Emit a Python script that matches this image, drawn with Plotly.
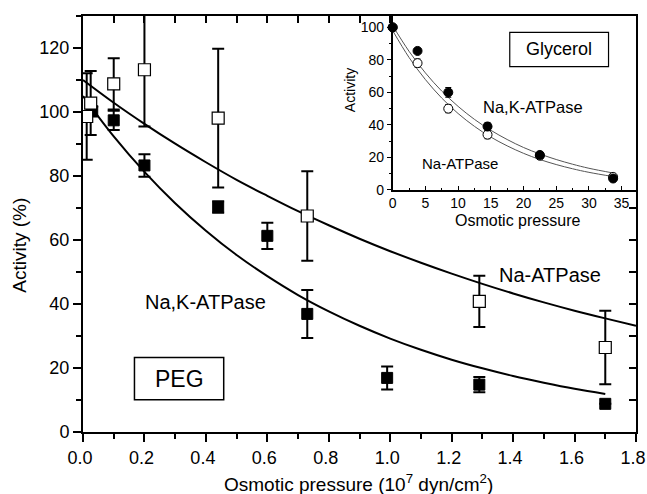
import plotly.graph_objects as go

# ---- main panel (PEG) data ----
nak_x = [0.03, 0.10, 0.20, 0.44, 0.60, 0.73, 0.99, 1.29, 1.70]
nak_y = [100.2, 97.4, 83.3, 70.3, 61.3, 36.9, 16.9, 14.8, 8.8]
nak_err = [1.5, 3.0, 3.5, 1.8, 4.1, 7.5, 3.6, 2.4, 0.0]

na_x = [0.012, 0.025, 0.10, 0.20, 0.44, 0.73, 1.29, 1.70]
na_y = [98.6, 102.8, 108.8, 113.2, 98.1, 67.5, 40.8, 26.4]
na_err = [13.5, 10.0, 8.0, 17.7, 21.7, 14.0, 8.0, 11.5]

fit_na_x = [0.0, 0.1, 0.2, 0.3, 0.4, 0.5, 0.6, 0.7, 0.8, 0.9, 1.0, 1.1, 1.2, 1.3, 1.4, 1.5, 1.6, 1.7, 1.8]
fit_na_y = [110, 102.9, 96.3, 90.1, 84.3, 78.8, 73.8, 69.0, 64.6, 60.4, 56.5, 52.9, 49.5, 46.3, 43.3, 40.5, 37.9, 35.5, 33.2]

fit_nak_x = [0.0, 0.1, 0.2, 0.3, 0.4, 0.5, 0.6, 0.7, 0.8, 0.9, 1.0, 1.1, 1.2, 1.3, 1.4, 1.5, 1.6, 1.7]
fit_nak_y = [105, 92.4, 81.3, 71.5, 62.9, 55.3, 48.7, 42.8, 37.7, 33.2, 29.2, 25.7, 22.6, 19.9, 17.5, 15.4, 13.5, 11.9]

x_ticks = [0.0, 0.2, 0.4, 0.6, 0.8, 1.0, 1.2, 1.4, 1.6, 1.8]
x_ticklabels = ["0.0", "0.2", "0.4", "0.6", "0.8", "1.0", "1.2", "1.4", "1.6", "1.8"]

# ---- inset (Glycerol) data ----
glyc_x = [0, 3.8, 8.5, 14.5, 22.5, 33.7]
glyc_nak = [100, 85.5, 60, 39, 21.5, 7]
glyc_nak_err = [0, 1, 3, 2.5, 1.5, 1]
glyc_na = [100, 78, 50, 34, 21, 8]
glyc_na_err = [0, 2.5, 2.5, 2.5, 1, 1.5]

gfit_x = [0, 2.5, 5, 7.5, 10, 12.5, 15, 17.5, 20, 22.5, 25, 27.5, 30, 33.7]
gfit_nak = [101, 85.3, 72.0, 60.8, 51.4, 43.4, 36.7, 31.0, 26.1, 22.1, 18.7, 15.8, 13.3, 10.4]
gfit_na = [98, 81.5, 67.9, 56.5, 47.0, 39.1, 32.5, 27.1, 22.5, 18.7, 15.6, 13.0, 10.8, 8.2]

FONT = "Liberation Sans, Arial, sans-serif"

fig = go.Figure()

# main fits
fig.add_trace(go.Scatter(x=fit_na_x, y=fit_na_y, mode="lines", line=dict(color="black", width=2, shape="spline"),
                         showlegend=False, hoverinfo="skip"))
fig.add_trace(go.Scatter(x=fit_nak_x, y=fit_nak_y, mode="lines", line=dict(color="black", width=2, shape="spline"),
                         showlegend=False, hoverinfo="skip"))
# main data
fig.add_trace(go.Scatter(x=nak_x, y=nak_y, mode="markers",
                         marker=dict(symbol="square", size=11, color="black", line=dict(color="black", width=1)),
                         error_y=dict(type="data", array=nak_err, color="black", thickness=2, width=6),
                         showlegend=False, cliponaxis=True))
fig.add_trace(go.Scatter(x=na_x, y=na_y, mode="markers",
                         marker=dict(symbol="square", size=12, color="white", line=dict(color="black", width=1.2)),
                         error_y=dict(type="data", array=na_err, color="black", thickness=2, width=6),
                         showlegend=False, cliponaxis=True))

# dummy trace for mirrored axes
fig.add_trace(go.Scatter(x=[None], y=[None], xaxis="x2", yaxis="y2", showlegend=False, hoverinfo="skip"))

# inset fits
fig.add_trace(go.Scatter(x=gfit_x, y=gfit_nak, mode="lines", xaxis="x3", yaxis="y3",
                         line=dict(color="#555555", width=1, shape="spline"), showlegend=False, hoverinfo="skip"))
fig.add_trace(go.Scatter(x=gfit_x, y=gfit_na, mode="lines", xaxis="x3", yaxis="y3",
                         line=dict(color="#555555", width=1, shape="spline"), showlegend=False, hoverinfo="skip"))
# inset data
fig.add_trace(go.Scatter(x=glyc_x, y=glyc_na, mode="markers", xaxis="x3", yaxis="y3",
                         marker=dict(symbol="circle", size=9, color="white", line=dict(color="black", width=1)),
                         error_y=dict(type="data", array=glyc_na_err, color="black", thickness=1, width=3),
                         showlegend=False, cliponaxis=False))
fig.add_trace(go.Scatter(x=glyc_x, y=glyc_nak, mode="markers", xaxis="x3", yaxis="y3",
                         marker=dict(symbol="circle", size=9, color="black", line=dict(color="black", width=1)),
                         error_y=dict(type="data", array=glyc_nak_err, color="black", thickness=1, width=3),
                         showlegend=False, cliponaxis=False))

tickfont = dict(family=FONT, size=18, color="black")
insetfont = dict(family=FONT, size=14, color="black")

fig.update_layout(
    width=647, height=494,
    margin=dict(l=83, r=11, t=16, b=62),
    paper_bgcolor="white", plot_bgcolor="white",
    font=dict(family=FONT, color="black"),
    xaxis=dict(domain=[0, 1], range=[0, 1.8], anchor="y", showline=True, linewidth=2, linecolor="black",
               ticks="outside", ticklen=8, tickwidth=2, tickcolor="black",
               tickmode="array", tickvals=x_ticks, ticktext=x_ticklabels, ticklabeloverflow="allow",
               ticklabelshift=-3,
               minor=dict(dtick=0.1, tick0=0, ticks="outside", ticklen=5, tickwidth=2, tickcolor="black"),
               showgrid=False, zeroline=False, tickfont=tickfont, automargin=False),
    yaxis=dict(domain=[0, 1], range=[0, 130], anchor="x", showline=True, linewidth=2, linecolor="black",
               ticks="outside", ticklen=8, tickwidth=2, tickcolor="black", dtick=20, tick0=0,
               minor=dict(dtick=10, ticks="outside", ticklen=5, tickwidth=2, tickcolor="black"),
               showgrid=False, zeroline=False, tickfont=tickfont, automargin=False),
    xaxis2=dict(overlaying="x", side="top", anchor="y", range=[0, 1.8], showline=True, linewidth=2, linecolor="black",
                ticks="inside", ticklen=7, tickwidth=2, tickcolor="black", dtick=0.1, tick0=0,
                showticklabels=False, showgrid=False, zeroline=False, automargin=False),
    yaxis2=dict(overlaying="y", side="right", anchor="x", range=[0, 130], showline=True, linewidth=2, linecolor="black",
                ticks="inside", ticklen=7, tickwidth=2, tickcolor="black", dtick=10, tick0=0,
                showticklabels=False, showgrid=False, zeroline=False, automargin=False),
    xaxis3=dict(domain=[0.56, 1.0], anchor="y3", range=[0, 37.2], showline=True, linewidth=1.5, linecolor="black",
                ticks="inside", ticklen=4, tickwidth=1, tickcolor="black", dtick=5, tick0=0,
                minor=dict(dtick=2.5, ticks="inside", ticklen=2, tickwidth=1, tickcolor="black"),
                showgrid=False, zeroline=False, tickfont=insetfont, automargin=False),
    yaxis3=dict(domain=[0.582, 1.0], anchor="x3", range=[0, 107], showline=True, linewidth=1.5, linecolor="black",
                ticks="outside", ticklen=4, tickwidth=1, tickcolor="black", dtick=20, tick0=0,
                minor=dict(dtick=10, ticks="outside", ticklen=2, tickwidth=1, tickcolor="black"),
                showgrid=False, zeroline=False, tickfont=insetfont, automargin=False),
    shapes=[
        dict(type="rect", xref="x", yref="y", x0=0.1675, x1=0.458, y0=10.1, y1=23.3,
             line=dict(color="black", width=1.5), fillcolor="white", layer="above"),
        dict(type="rect", xref="x3", yref="y3", x0=17.9, x1=33.0, y0=75.8, y1=96.9,
             line=dict(color="black", width=1.2), fillcolor="white", layer="above"),
    ],
    annotations=[
        dict(text="PEG", x=0.3125, y=16.7, xref="x", yref="y", showarrow=False,
             font=dict(family=FONT, size=23, color="black")),
        dict(text="Na,K-ATPase", x=0.4, y=40.7, xref="x", yref="y", showarrow=False,
             font=dict(family=FONT, size=20, color="black")),
        dict(text="Na-ATPase", x=1.52, y=49.0, xref="x", yref="y", showarrow=False,
             font=dict(family=FONT, size=20, color="black")),
        dict(text="Glycerol", x=25.5, y=86.4, xref="x3", yref="y3", showarrow=False,
             font=dict(family=FONT, size=18, color="black")),
        dict(text="Na,K-ATPase", x=21.5, y=51.2, xref="x3", yref="y3", showarrow=False,
             font=dict(family=FONT, size=16.5, color="black")),
        dict(text="Na-ATPase", x=10.3, y=16.4, xref="x3", yref="y3", showarrow=False,
             font=dict(family=FONT, size=15, color="black")),
        dict(text="Activity (%)", textangle=-90, x=-0.114, y=0.45, xref="paper", yref="paper",
             xanchor="center", yanchor="middle", showarrow=False,
             font=dict(family=FONT, size=19, color="black")),
        dict(text="Osmotic pressure (10<sup>7</sup> dyn/cm<sup>2</sup>)", x=0.499, y=-0.1226,
             xref="paper", yref="paper", xanchor="center", yanchor="middle", showarrow=False,
             font=dict(family=FONT, size=19, color="black")),
        dict(text="Activity", textangle=-90, x=0.483, y=0.822, xref="paper", yref="paper",
             xanchor="center", yanchor="middle", showarrow=False,
             font=dict(family=FONT, size=14, color="black")),
        dict(text="Osmotic pressure", x=0.785, y=0.5096, xref="paper", yref="paper",
             xanchor="center", yanchor="middle", showarrow=False,
             font=dict(family=FONT, size=16, color="black")),
    ],
)

fig.write_html("out.html")
